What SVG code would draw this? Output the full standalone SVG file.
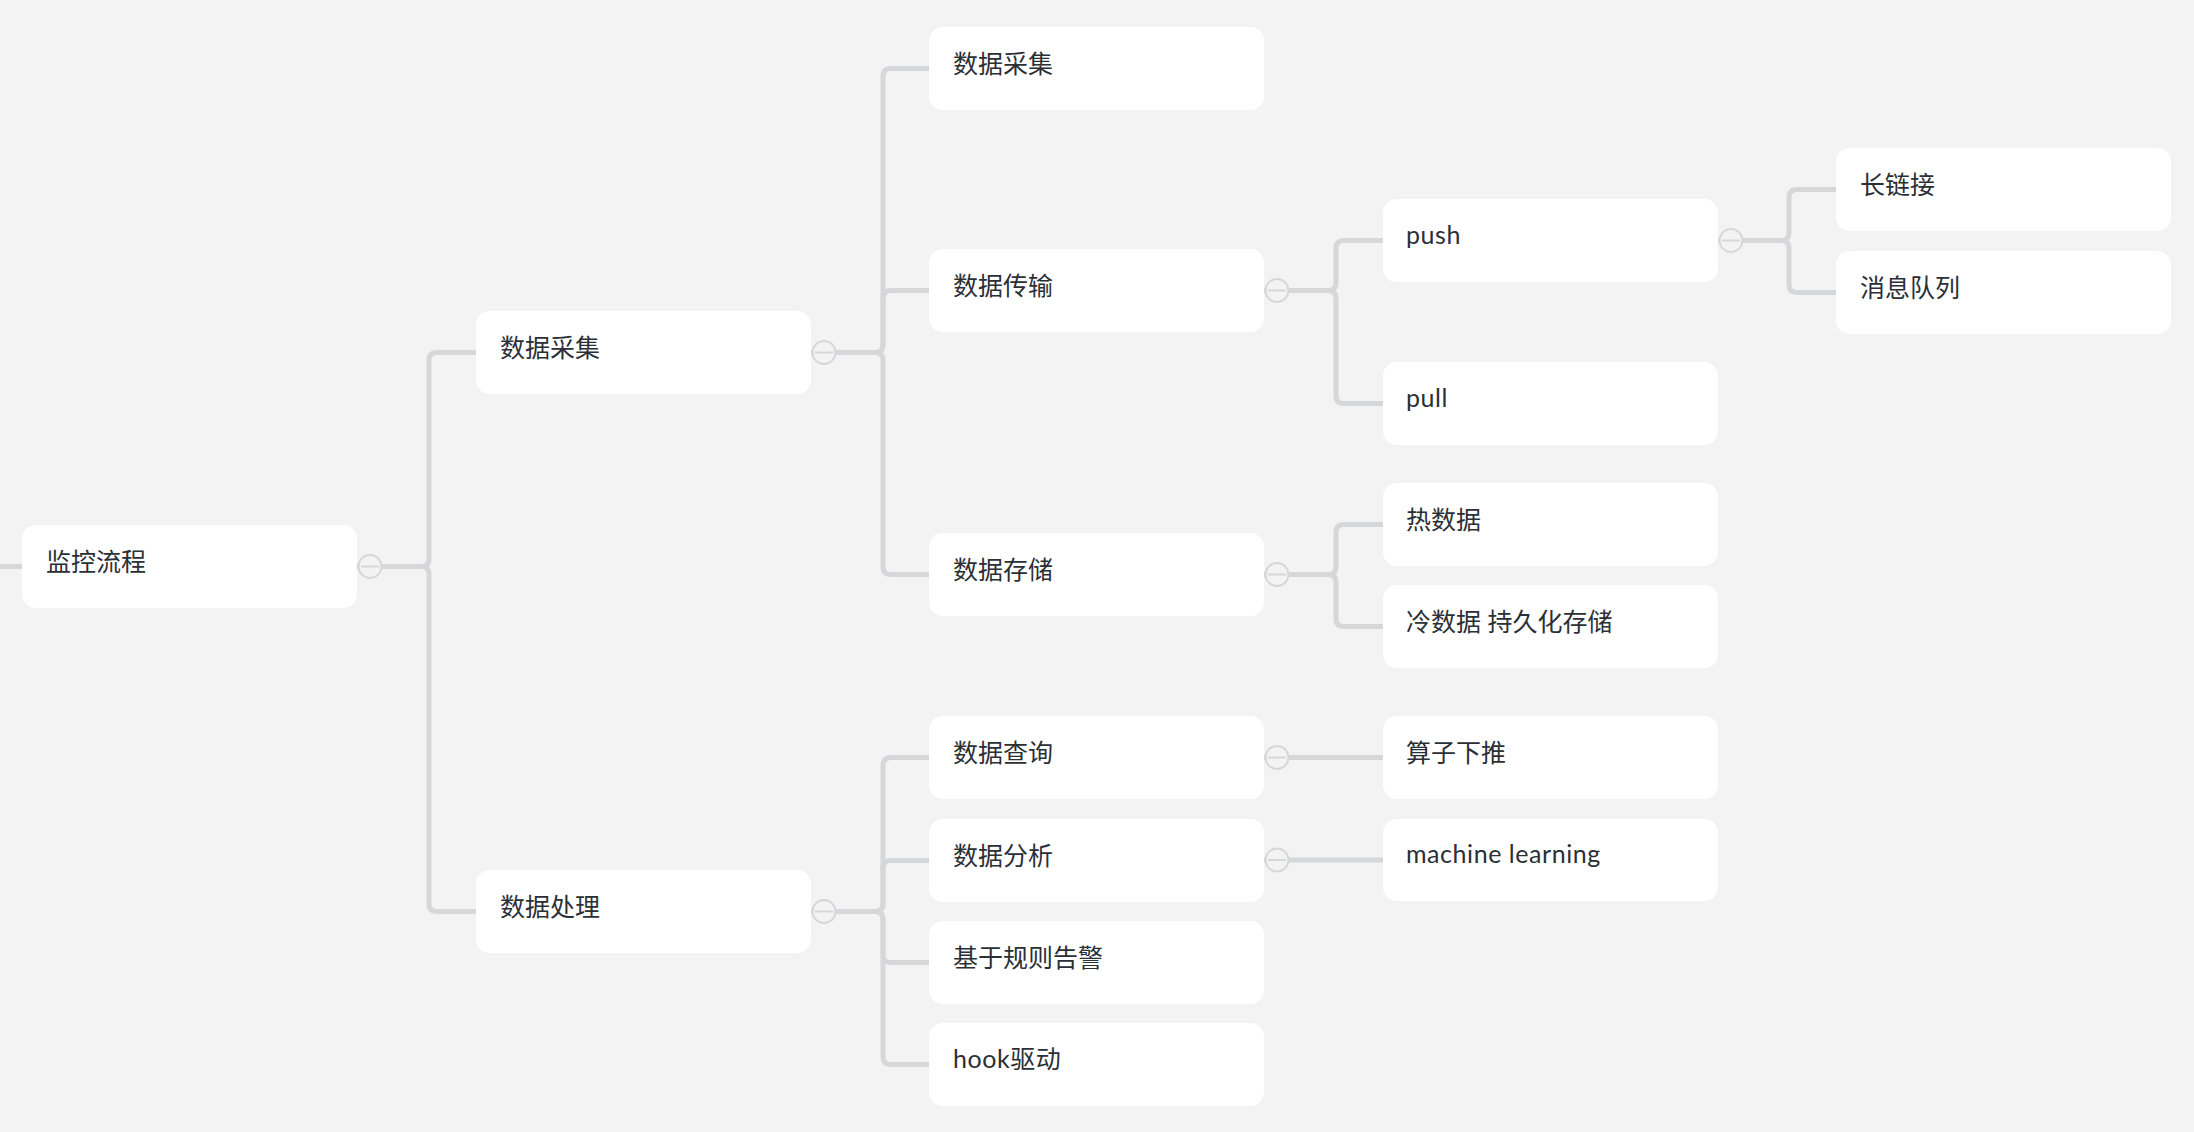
<svg xmlns="http://www.w3.org/2000/svg" width="2194" height="1132" viewBox="0 0 2194 1132">
<style>
.bg{fill:#f3f3f3}
.node rect{fill:#ffffff}
.node text{font-family:"Lato","Noto Sans CJK SC",sans-serif;font-size:25px;fill:#2b2f36}
.node text.latin{letter-spacing:0.55px}
.conn path{fill:none;stroke:#d6d7d9;stroke-width:5;stroke-linecap:butt}
.tog circle{fill:#f3f3f3;stroke:#d6d7d9;stroke-width:2}
.tog path{stroke:#d6d7d9;stroke-width:2;fill:none}
</style>
<defs>
<g id="toggle" class="tog"><circle cx="0" cy="0" r="11.5"/><path d="M-9 0H9"/></g>
</defs>
<rect class="bg" x="0" y="0" width="2194" height="1132"/>
<g id="connectors" class="conn">
<path d="M0 566.5H22"/>
<path d="M357 566.5H421Q429 566.5 429 558.5V360.5Q429 352.5 437 352.5H476"/>
<path d="M357 566.5H421Q429 566.5 429 574.5V903.5Q429 911.5 437 911.5H476"/>
<path d="M811 352.5H875Q883 352.5 883 344.5V76.5Q883 68.5 891 68.5H929"/>
<path d="M811 352.5H875Q883 352.5 883 344.5V298.5Q883 290.5 891 290.5H929"/>
<path d="M811 352.5H875Q883 352.5 883 360.5V566.5Q883 574.5 891 574.5H929"/>
<path d="M811 911.5H875Q883 911.5 883 903.5V765.5Q883 757.5 891 757.5H929"/>
<path d="M811 911.5H875Q883 911.5 883 903.5V868.5Q883 860.5 891 860.5H929"/>
<path d="M811 911.5H875Q883 911.5 883 919.5V954.5Q883 962.5 891 962.5H929"/>
<path d="M811 911.5H875Q883 911.5 883 919.5V1056.5Q883 1064.5 891 1064.5H929"/>
<path d="M1264 290.5H1328Q1336 290.5 1336 282.5V248.5Q1336 240.5 1344 240.5H1383"/>
<path d="M1264 290.5H1328Q1336 290.5 1336 298.5V395.5Q1336 403.5 1344 403.5H1383"/>
<path d="M1264 574.5H1328Q1336 574.5 1336 566.5V532.5Q1336 524.5 1344 524.5H1383"/>
<path d="M1264 574.5H1328Q1336 574.5 1336 582.5V618.5Q1336 626.5 1344 626.5H1383"/>
<path d="M1264 757.5H1383"/>
<path d="M1264 860H1383"/>
<path d="M1718 240.5H1781Q1789 240.5 1789 232.5V197.5Q1789 189.5 1797 189.5H1836"/>
<path d="M1718 240.5H1781Q1789 240.5 1789 248.5V284.5Q1789 292.5 1797 292.5H1836"/>
</g>
<g id="n-root" class="node"><rect x="22" y="525" width="335" height="83" rx="14"/><text x="46" y="571">监控流程</text><use href="#toggle" x="370" y="566.5"/></g>
<g id="n-collect" class="node"><rect x="476" y="311" width="335" height="83" rx="14"/><text x="500" y="357">数据采集</text><use href="#toggle" x="824" y="352.5"/></g>
<g id="n-process" class="node"><rect x="476" y="870" width="335" height="83" rx="14"/><text x="500" y="916">数据处理</text><use href="#toggle" x="824" y="911.5"/></g>
<g id="n-collect2" class="node"><rect x="929" y="27" width="335" height="83" rx="14"/><text x="953" y="73">数据采集</text></g>
<g id="n-transfer" class="node"><rect x="929" y="249" width="335" height="83" rx="14"/><text x="953" y="295">数据传输</text><use href="#toggle" x="1277" y="290.5"/></g>
<g id="n-store" class="node"><rect x="929" y="533" width="335" height="83" rx="14"/><text x="953" y="579">数据存储</text><use href="#toggle" x="1277" y="574.5"/></g>
<g id="n-query" class="node"><rect x="929" y="716" width="335" height="83" rx="14"/><text x="953" y="762">数据查询</text><use href="#toggle" x="1277" y="757.5"/></g>
<g id="n-analyze" class="node"><rect x="929" y="819" width="335" height="83" rx="14"/><text x="953" y="865">数据分析</text><use href="#toggle" x="1277" y="860"/></g>
<g id="n-alert" class="node"><rect x="929" y="921" width="335" height="83" rx="14"/><text x="953" y="967">基于规则告警</text></g>
<g id="n-hook" class="node"><rect x="929" y="1023" width="335" height="83" rx="14"/><text class="latin" x="953" y="1068">hook驱动</text></g>
<g id="n-push" class="node"><rect x="1383" y="199" width="335" height="83" rx="14"/><text class="latin" x="1406" y="244">push</text><use href="#toggle" x="1731" y="240.5"/></g>
<g id="n-pull" class="node"><rect x="1383" y="362" width="335" height="83" rx="14"/><text class="latin" x="1406" y="407">pull</text></g>
<g id="n-hot" class="node"><rect x="1383" y="483" width="335" height="83" rx="14"/><text x="1406" y="529">热数据</text></g>
<g id="n-cold" class="node"><rect x="1383" y="585" width="335" height="83" rx="14"/><text x="1406" y="631">冷数据 持久化存储</text></g>
<g id="n-pushdown" class="node"><rect x="1383" y="716" width="335" height="83" rx="14"/><text x="1406" y="762">算子下推</text></g>
<g id="n-ml" class="node"><rect x="1383" y="819" width="335" height="82" rx="14"/><text class="latin" x="1406" y="863">machine learning</text></g>
<g id="n-longconn" class="node"><rect x="1836" y="148" width="335" height="83" rx="14"/><text x="1860" y="194">长链接</text></g>
<g id="n-mq" class="node"><rect x="1836" y="251" width="335" height="83" rx="14"/><text x="1860" y="297">消息队列</text></g>
</svg>
